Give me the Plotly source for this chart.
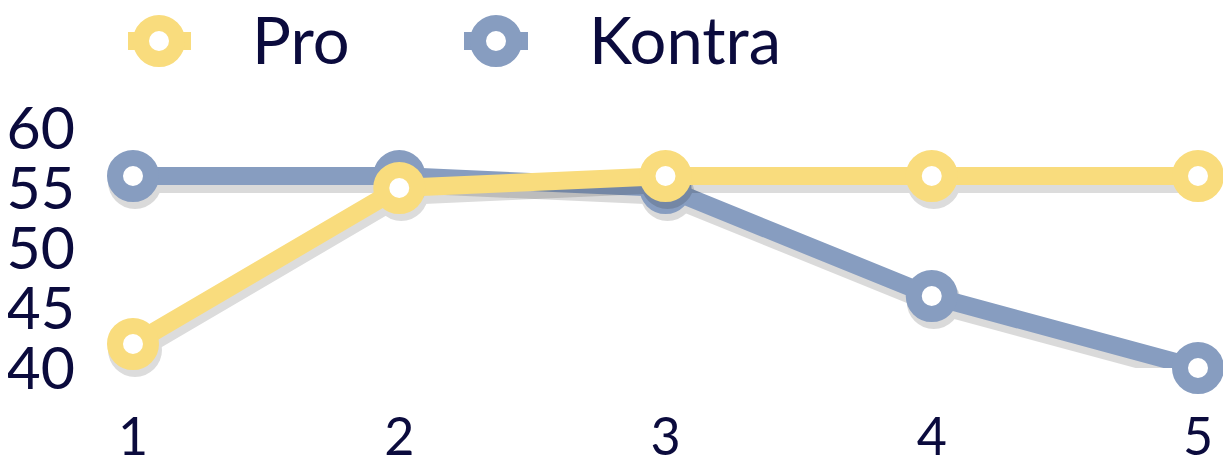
import plotly.graph_objects as go

categories = [1, 2, 3, 4, 5]
pro_values = [42, 55, 56, 56, 56]
kontra_values = [56, 56, 55, 46, 40]
y_ticks = [40, 45, 50, 55, 60]
x_tick_labels = ["1", "2", "3", "4", "5"]
series_names = ["Pro", "Kontra"]

YELLOW = "#f9dc7d"
BLUE = "#879dc0"
TEXT = "#0b0b3d"
FONT = "Lato"

# the page body adds an 8px margin, so the figure is drawn 8px in from the corner
OFF = 8
W, H = 1231 - OFF, 463 - OFF
ML, MR, MT, MB = 125, 33, 120, 95
PW, PH = W - ML - MR, H - MT - MB
X_RANGE = [1, 5]
Y_RANGE = [40, 60]
SHADOW_DX, SHADOW_DY = 2, 6  # px


def px_x(p):
    # p: screenshot pixel -> paper coordinate
    return (p - OFF - ML) / PW


def px_y(p):
    return (H - MB - (p - OFF)) / PH


# shifted ranges for the drop-shadow axes
xu = (X_RANGE[1] - X_RANGE[0]) / PW
yu = (Y_RANGE[1] - Y_RANGE[0]) / PH
X_SH = [X_RANGE[0] - SHADOW_DX * xu, X_RANGE[1] - SHADOW_DX * xu]
Y_SH = [Y_RANGE[0] + SHADOW_DY * yu, Y_RANGE[1] + SHADOW_DY * yu]

fig = go.Figure()
layers = [
    ("x", "y", series_names[1], kontra_values, BLUE, True),
    ("x2", "y2", series_names[1], kontra_values, BLUE, False),
    ("x3", "y3", series_names[0], pro_values, YELLOW, True),
    ("x4", "y4", series_names[0], pro_values, YELLOW, False),
]
for xa, ya, name, vals, col, shadow in layers:
    if shadow:
        fig.add_trace(go.Scatter(
            x=categories, y=vals, name=name, mode="lines+markers",
            xaxis=xa, yaxis=ya, opacity=0.14,
            line=dict(color="black", width=22),
            marker=dict(symbol="circle", size=54, color="black", line=dict(width=0)),
            cliponaxis=False, showlegend=False, hoverinfo="skip",
        ))
    else:
        fig.add_trace(go.Scatter(
            x=categories, y=vals, name=name, mode="lines+markers",
            xaxis=xa, yaxis=ya,
            line=dict(color=col, width=18),
            marker=dict(symbol="circle", size=36, color="white",
                        line=dict(color=col, width=16)),
            cliponaxis=False, showlegend=False,
        ))

# custom legend (large symbols like the reference)
shapes = []
annotations = []
legend_items = [(series_names[0], YELLOW, 128, 191, 159, 250),
                (series_names[1], BLUE, 464, 528, 496, 587)]
ly = 41
for name, col, lx0, lx1, cx, tx in legend_items:
    shapes.append(dict(type="line", xref="paper", yref="paper",
                       x0=px_x(lx0), x1=px_x(lx1), y0=px_y(ly), y1=px_y(ly),
                       line=dict(color=col, width=18)))
    r = 18
    shapes.append(dict(type="circle", xref="paper", yref="paper",
                       x0=px_x(cx - r), x1=px_x(cx + r), y0=px_y(ly + r), y1=px_y(ly - r),
                       fillcolor="white", line=dict(color=col, width=16)))
    annotations.append(dict(text=name, xref="paper", yref="paper",
                            x=px_x(tx), y=px_y(39), xanchor="left", yanchor="middle",
                            showarrow=False, font=dict(family=FONT, size=65, color=TEXT)))

hidden = dict(showgrid=False, zeroline=False, showline=False, ticks="",
              showticklabels=False)

fig.update_layout(
    width=W, height=H,
    margin=dict(l=ML, r=MR, t=MT, b=MB, autoexpand=False),
    paper_bgcolor="white", plot_bgcolor="white",
    font=dict(family=FONT, size=53, color=TEXT),
    showlegend=False,
    shapes=shapes, annotations=annotations,
    xaxis=dict(range=X_SH, **hidden),
    yaxis=dict(range=Y_SH, **hidden),
    xaxis2=dict(range=X_RANGE, overlaying="x", tickvals=categories, ticktext=x_tick_labels,
                showgrid=False, zeroline=False, showline=False, ticks="",
                ticklabelstandoff=34, tickfont=dict(size=52), side="bottom"),
    yaxis2=dict(range=Y_RANGE, overlaying="y", tickvals=y_ticks, showgrid=False,
                zeroline=False, showline=False, ticks="", ticklabelstandoff=57,
                tickfont=dict(size=59), side="left"),
    xaxis3=dict(range=X_SH, overlaying="x", **hidden),
    yaxis3=dict(range=Y_SH, overlaying="y", **hidden),
    xaxis4=dict(range=X_RANGE, overlaying="x", **hidden),
    yaxis4=dict(range=Y_RANGE, overlaying="y", **hidden),
)

fig.write_html("out.html")
